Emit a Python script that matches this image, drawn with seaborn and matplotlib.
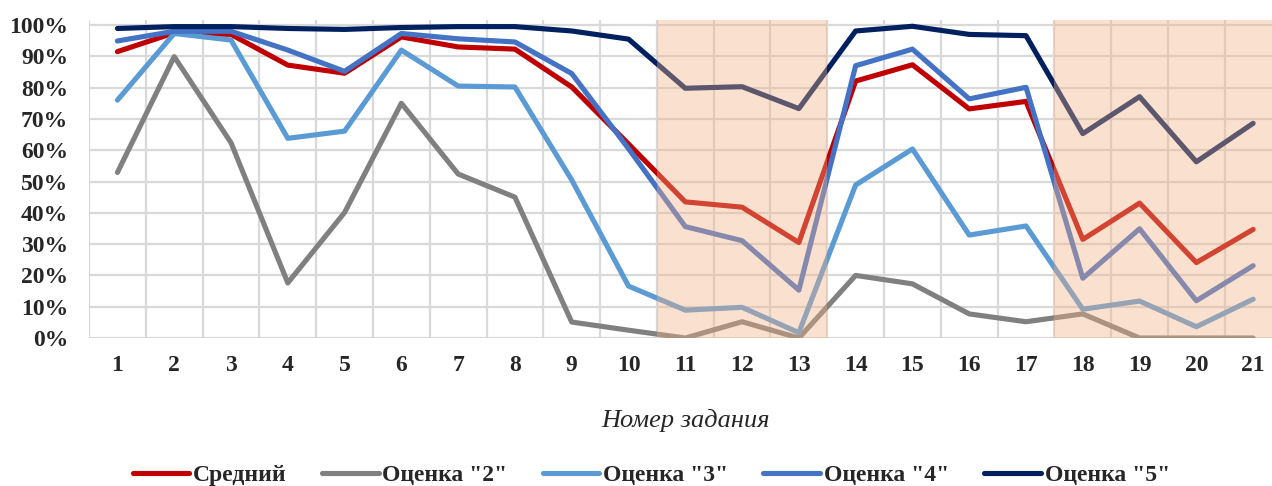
import numpy as np
import pandas as pd
import matplotlib
matplotlib.use("Agg")
import matplotlib.pyplot as plt
import seaborn as sns

# %%

tasks = list(range(1, 22))
series_names = ['Средний', 'Оценка "2"', 'Оценка "3"', 'Оценка "4"', 'Оценка "5"']

avg = [91.5, 97.5, 97.0, 87.2, 84.6, 96.2, 93.0, 92.3, 80.2, 62.0, 43.5, 41.8, 30.5,
       82.1, 87.3, 73.2, 75.6, 31.5, 43.1, 24.1, 34.7]
grade2 = [52.9, 89.9, 62.4, 17.6, 40.1, 75.0, 52.4, 45.0, 5.1, 2.5, 0.0, 5.2, 0.0,
          20.0, 17.3, 7.7, 5.2, 7.7, 0.0, 0.0, 0.0]
grade3 = [76.0, 97.3, 95.2, 63.8, 66.1, 92.0, 80.5, 80.2, 50.5, 16.6, 8.9, 9.8, 1.7,
          48.9, 60.4, 32.9, 35.8, 9.2, 11.8, 3.6, 12.4]
grade4 = [94.9, 98.0, 98.0, 92.0, 85.2, 97.3, 95.6, 94.6, 84.5, 60.5, 35.6, 31.1, 15.3,
          87.0, 92.3, 76.4, 80.1, 19.1, 34.9, 11.9, 23.1]
grade5 = [98.9, 99.5, 99.5, 98.9, 98.6, 99.2, 99.5, 99.5, 98.1, 95.5, 79.8, 80.3, 73.3,
          98.1, 99.6, 97.0, 96.6, 65.3, 77.1, 56.3, 68.6]

highlight = [(10.5, 13.5), (17.5, 21.5)]

# %%

df = pd.DataFrame({"task": tasks * 5,
                   "series": np.repeat(series_names, len(tasks)),
                   "value": np.array(avg + grade2 + grade3 + grade4 + grade5) / 100})

palette = {'Средний': '#C00000', 'Оценка "2"': '#808080', 'Оценка "3"': '#5B9BD5',
           'Оценка "4"': '#4472C4', 'Оценка "5"': '#002060'}

sns.set_style("white")
plt.rcParams['font.family'] = ['Liberation Serif', 'DejaVu Serif']

fig = plt.figure(figsize=(12.72, 4.86), dpi=100)
ax = fig.add_axes([0.0700, 0.3045, 0.9375, 0.6543])

sns.lineplot(data=df, x="task", y="value", hue="series", palette=palette,
             hue_order=series_names, linewidth=3.7, ax=ax, zorder=3)

for a, b in highlight:
    ax.axvspan(a, b, color='#F4B183', alpha=0.38, lw=0, zorder=4)

ax.set_xlim(0.5, 21.5)
ax.set_ylim(0, 1.016)
ax.set_yticks(np.arange(0, 1.01, 0.1))
ax.set_yticklabels([f"{int(round(v * 100))}%" for v in np.arange(0, 1.01, 0.1)],
                   fontsize=17, fontweight='bold')
ax.set_xticks(tasks)
ax.set_xticklabels([str(t) for t in tasks], fontsize=17, fontweight='bold')
ax.set_xticks(np.arange(0.5, 21.6, 1), minor=True)
ax.tick_params(axis='both', which='both', length=0)
ax.tick_params(axis='x', pad=12)
ax.tick_params(axis='y', pad=15)

ax.grid(False)
ax.grid(True, which='minor', axis='x', color='#D9D9D9', lw=1.6, zorder=1)
ax.grid(True, which='major', axis='y', color='#D9D9D9', lw=1.6, zorder=1)
ax.set_axisbelow(True)
for s in ax.spines.values():
    s.set_visible(False)

ax.set_xlabel("Номер задания", fontsize=19, fontstyle='italic', labelpad=24)
ax.set_ylabel("")

handles, labels = ax.get_legend_handles_labels()
ax.get_legend().remove()
fig.legend(handles, labels, loc='center', bbox_to_anchor=(0.512, 0.022), ncol=5,
           frameon=False, prop={'size': 17, 'weight': 'bold'},
           handlelength=2.4, handletextpad=0.15, columnspacing=1.5)

fig.savefig("out.png", dpi=100)
